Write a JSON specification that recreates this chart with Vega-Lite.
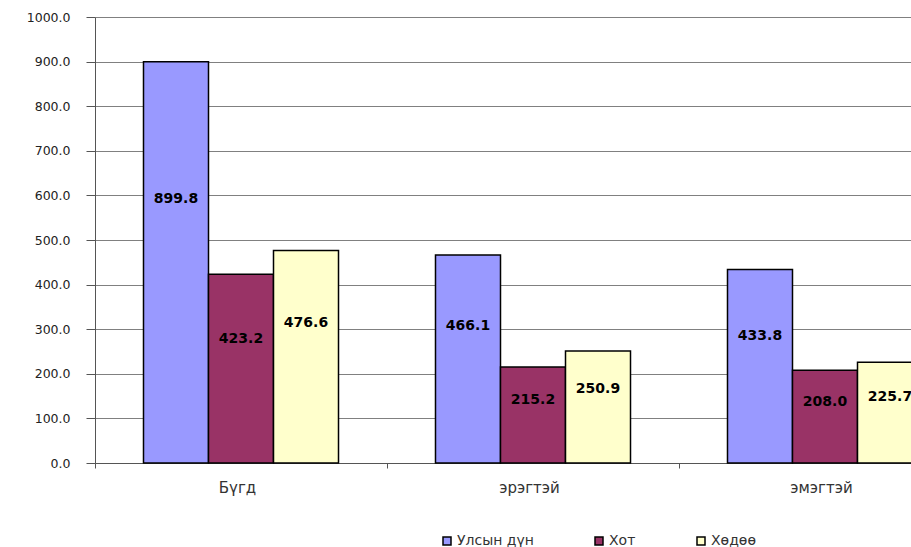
{
  "$schema": "https://vega.github.io/schema/vega-lite/v6.json",
  "width": 876,
  "height": 446,
  "autosize": {"type": "none"},
  "padding": {"left": 95, "top": 17, "right": 0, "bottom": 84},
  "background": "white",
  "config": {
    "view": {"stroke": null},
    "font": "DejaVu Sans",
    "axis": {"labelFont": "DejaVu Sans", "labelColor": "#222222", "labelFontSize": 12},
    "legend": {"labelFont": "DejaVu Sans"}
  },
  "data": {
    "values": [
      {"group": "Бүгд", "series": "Улсын дүн", "value": 899.8},
      {"group": "Бүгд", "series": "Хот", "value": 423.2},
      {"group": "Бүгд", "series": "Хөдөө", "value": 476.6},
      {"group": "эрэгтэй", "series": "Улсын дүн", "value": 466.1},
      {"group": "эрэгтэй", "series": "Хот", "value": 215.2},
      {"group": "эрэгтэй", "series": "Хөдөө", "value": 250.9},
      {"group": "эмэгтэй", "series": "Улсын дүн", "value": 433.8},
      {"group": "эмэгтэй", "series": "Хот", "value": 208.0},
      {"group": "эмэгтэй", "series": "Хөдөө", "value": 225.7}
    ]
  },
  "encoding": {
    "x": {
      "field": "group",
      "type": "nominal",
      "sort": ["Бүгд", "эрэгтэй", "эмэгтэй"],
      "scale": {"paddingInner": 0, "paddingOuter": 0},
      "axis": {
        "title": null,
        "labelAngle": 0,
        "tickBand": "extent",
        "tickSize": 5,
        "tickColor": "#555555",
        "domainColor": "#555555",
        "labelPadding": 12,
        "labelFontSize": 15,
        "labelColor": "#333333",
        "labelOffset": -4
      }
    },
    "xOffset": {
      "field": "series",
      "type": "nominal",
      "sort": ["Улсын дүн", "Хот", "Хөдөө"],
      "scale": {"paddingInner": 0, "paddingOuter": 0.746}
    }
  },
  "layer": [
    {
      "mark": {"type": "bar", "stroke": "#000000", "strokeWidth": 1.5},
      "encoding": {
        "y": {
          "field": "value",
          "type": "quantitative",
          "scale": {"domain": [0, 1000], "nice": false},
          "axis": {
            "title": null,
            "values": [0, 100, 200, 300, 400, 500, 600, 700, 800, 900, 1000],
            "format": ".1f",
            "tickSize": 9,
            "tickColor": "#555555",
            "domainColor": "#555555",
            "gridColor": "#808080",
            "gridOpacity": 1,
            "labelPadding": 16,
            "labelFontSize": 12.5,
            "labelColor": "#222222"
          }
        },
        "color": {
          "field": "series",
          "type": "nominal",
          "sort": ["Улсын дүн", "Хот", "Хөдөө"],
          "scale": {"domain": ["Улсын дүн", "Хот", "Хөдөө"], "range": ["#9999FF", "#993366", "#FFFFCC"]},
          "legend": {
            "title": null,
            "orient": "none",
            "legendX": 345,
            "legendY": 517,
            "direction": "horizontal",
            "symbolType": "square",
            "symbolSize": 64,
            "symbolStrokeColor": "#000000",
            "symbolStrokeWidth": 1.5,
            "symbolOpacity": 1,
            "labelFontSize": 14,
            "labelColor": "#333333",
            "labelOffset": 3,
            "columnPadding": 58
          }
        }
      }
    },
    {
      "mark": {"type": "text", "font": "DejaVu Sans", "fontSize": 14, "fontWeight": "bold", "color": "#000000", "align": "center", "baseline": "middle"},
      "encoding": {
        "y": {
          "field": "value",
          "type": "quantitative",
          "scale": {"domain": [0, 1520], "nice": false},
          "axis": null
        },
        "text": {"field": "value", "type": "quantitative", "format": ".1f"}
      }
    }
  ],
  "resolve": {"scale": {"y": "independent"}}
}
